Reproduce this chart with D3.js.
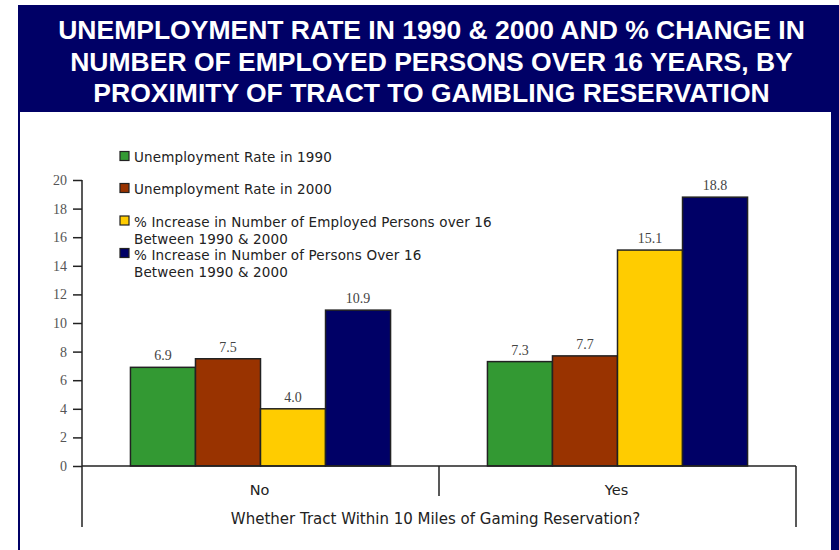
<!DOCTYPE html>
<html>
<head>
<meta charset="utf-8">
<script src="https://cdn.jsdelivr.net/npm/d3@7"></script>
<style>
  html, body { margin: 0; padding: 0; background: #fff; }
  svg { display: block; }
</style>
</head>
<body>
<svg id="chart" width="839" height="550"></svg>
<script>
// ---- data ----
const titleLines = [
  "UNEMPLOYMENT RATE IN 1990 & 2000 AND % CHANGE IN",
  "NUMBER OF EMPLOYED PERSONS OVER 16 YEARS, BY",
  "PROXIMITY OF TRACT TO GAMBLING RESERVATION"
];
const categories = ["No", "Yes"];
const seriesNames = ["s1990", "s2000", "empInc", "popInc"];
const legendLabels = [
  ["Unemployment Rate in 1990"],
  ["Unemployment Rate in 2000"],
  ["% Increase in Number of Employed Persons over 16", "Between 1990 & 2000"],
  ["% Increase in Number of Persons Over 16", "Between 1990 & 2000"]
];
const unemp1990 = [6.9, 7.3];
const unemp2000 = [7.5, 7.7];
const empIncrease = [4.0, 15.1];
const popIncrease = [10.9, 18.8];
const yTicks = [0, 2, 4, 6, 8, 10, 12, 14, 16, 18, 20];
const xAxisTitle = "Whether Tract Within 10 Miles of Gaming Reservation?";
const colors = ["#339933", "#993300", "#ffcc00", "#000066"];

const seriesValues = [unemp1990, unemp2000, empIncrease, popIncrease];
const rows = categories.map((c, i) => ({
  cat: c,
  vals: seriesNames.map((s, j) => ({ key: s, idx: j, value: seriesValues[j][i] }))
}));

const svg = d3.select("#chart");
const navy = "#000066";

// ---- frame ----
svg.append("rect").attr("x", 18).attr("y", 5).attr("width", 821).attr("height", 107).attr("fill", navy);
svg.append("rect").attr("x", 18).attr("y", 112).attr("width", 2).attr("height", 438).attr("fill", navy);
svg.append("rect").attr("x", 831).attr("y", 5).attr("width", 8).attr("height", 545).attr("fill", navy);

svg.append("g").selectAll("text").data(titleLines).join("text")
  .attr("x", 431.5).attr("y", (d, i) => 39 + i * 31.5)
  .attr("text-anchor", "middle")
  .attr("fill", "#fff")
  .attr("font-family", "'Liberation Sans', Arial, sans-serif")
  .attr("font-weight", "bold")
  .attr("font-size", 26.5)
  .text(d => d);

// ---- scales ----
const plotLeft = 82, plotRight = 796, y0 = 466, yTop = 180;
const y = d3.scaleLinear().domain([0, 20]).range([y0, yTop]);
const x0 = d3.scaleBand().domain(categories).range([plotLeft, plotRight]).padding(0);
const x1 = d3.scaleBand().domain(seriesNames).range([0, x0.bandwidth()]).paddingInner(0).paddingOuter(0.745);

// ---- y axis ----
const yAxis = d3.axisLeft(y).tickValues(yTicks).tickSize(9).tickPadding(6).tickFormat(d3.format("d"));
const gy = svg.append("g").attr("transform", `translate(${plotLeft},0)`).call(yAxis);
gy.select(".domain").remove();
gy.selectAll(".tick line").attr("stroke", "#222").attr("stroke-width", 1.5);
gy.selectAll(".tick text")
  .attr("font-family", "'Liberation Serif', 'Times New Roman', serif")
  .attr("font-size", 14)
  .attr("fill", "#555");
svg.append("line").attr("x1", plotLeft).attr("x2", plotLeft).attr("y1", yTop).attr("y2", 527)
  .attr("stroke", "#222").attr("stroke-width", 1.5);

// ---- bars ----
const groups = svg.append("g").selectAll("g").data(rows).join("g")
  .attr("transform", d => `translate(${x0(d.cat)},0)`);
groups.selectAll("rect").data(d => d.vals).join("rect")
  .attr("x", d => x1(d.key))
  .attr("y", d => y(d.value))
  .attr("width", x1.bandwidth())
  .attr("height", d => y0 - y(d.value))
  .attr("fill", d => colors[d.idx])
  .attr("stroke", "#222")
  .attr("stroke-width", 1.5);
groups.selectAll("text").data(d => d.vals).join("text")
  .attr("x", d => x1(d.key) + x1.bandwidth() / 2)
  .attr("y", d => y(d.value) - 7)
  .attr("text-anchor", "middle")
  .attr("font-family", "'Liberation Serif', 'Times New Roman', serif")
  .attr("font-size", 14)
  .attr("fill", "#444")
  .text(d => d.value.toFixed(1));

// ---- category axis ----
svg.append("line").attr("x1", plotLeft).attr("x2", plotRight).attr("y1", y0).attr("y2", y0)
  .attr("stroke", "#222").attr("stroke-width", 1.5);
svg.append("line").attr("x1", x0("Yes")).attr("x2", x0("Yes")).attr("y1", y0).attr("y2", 496)
  .attr("stroke", "#222").attr("stroke-width", 1.5);
svg.append("line").attr("x1", plotRight).attr("x2", plotRight).attr("y1", y0).attr("y2", 527)
  .attr("stroke", "#222").attr("stroke-width", 1.5);
svg.append("g").selectAll("text").data(categories).join("text")
  .attr("x", d => x0(d) + x0.bandwidth() / 2 - 1)
  .attr("y", 495)
  .attr("text-anchor", "middle")
  .attr("font-family", "'DejaVu Sans', Verdana, sans-serif")
  .attr("font-size", 14.5)
  .attr("fill", "#222")
  .text(d => d);
svg.append("text").attr("x", 435.5).attr("y", 524).attr("text-anchor", "middle")
  .attr("font-family", "'DejaVu Sans', Verdana, sans-serif")
  .attr("font-size", 15)
  .attr("fill", "#222")
  .text(xAxisTitle);

// ---- legend ----
const legendY = [156, 188, 220.5, 253];
const legendLineY = [[6], [6], [6, 23], [6.5, 24]];
const leg = svg.append("g").selectAll("g").data(legendLabels).join("g")
  .attr("transform", (d, i) => `translate(120,${legendY[i]})`);
leg.append("rect").attr("x", 0).attr("y", -4.5).attr("width", 9).attr("height", 9)
  .attr("fill", (d, i) => colors[i]).attr("stroke", "#222").attr("stroke-width", 1.2);
leg.each(function (d, i) {
  const g = d3.select(this);
  g.selectAll("text").data(d).join("text")
    .attr("x", 14)
    .attr("y", (t, k) => legendLineY[i][k])
    .attr("font-family", "'DejaVu Sans', Verdana, sans-serif")
    .attr("font-size", 13.5)
    .attr("letter-spacing", 0.15)
    .attr("fill", "#222")
    .text(t => t);
});
</script>
</body>
</html>
